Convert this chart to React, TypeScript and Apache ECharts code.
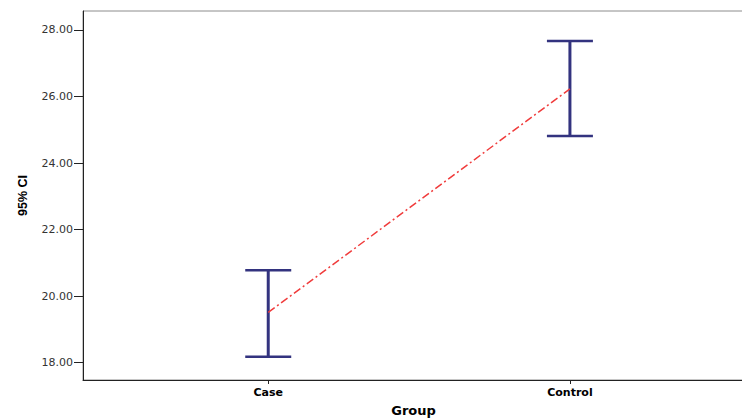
import React, { useEffect, useRef } from "react";
import * as echarts from "echarts";

const groups = ["Case", "Control"];
const groupPos = [1, 2];
const lowerCI = [18.18, 24.81];
const upperCI = [20.78, 27.67];
const means = [19.51, 26.23];
const yTicks = [18, 20, 22, 24, 26, 28];

export default function App() {
  const ref = useRef<HTMLDivElement>(null);
  useEffect(() => {
    if (!ref.current) return;
    document.body.style.margin = "0";
    const chart = echarts.init(ref.current, null, { renderer: "svg" });
    const barData = groupPos.map((x, i) => [x, lowerCI[i], upperCI[i]]);
    const meanData = groupPos.map((x, i) => [x, means[i]]);
    chart.setOption({
      animation: false,
      backgroundColor: "#ffffff",
      grid: {
        left: 83,
        top: 11,
        right: -2,
        bottom: 39,
        outerBoundsMode: "none",
        containLabel: false,
        show: true,
        borderColor: "#8c8c8c",
        borderWidth: 1,
      },
      xAxis: {
        type: "value",
        min: 0.386,
        max: 2.577,
        name: "Group",
        nameLocation: "middle",
        nameGap: 24,
        nameMoveOverlap: false,
        nameTextStyle: {
          fontFamily: "DejaVu Sans",
          fontWeight: "bold",
          fontSize: 13,
          color: "#000",
        },
        splitLine: { show: false },
        axisLine: { show: true, lineStyle: { color: "#222", width: 1 } },
        axisTick: {
          show: true,
          length: 4,
          customValues: groupPos,
          lineStyle: { color: "#222" },
        },
        axisLabel: {
          customValues: groupPos,
          formatter: (v: number) => groups[groupPos.indexOf(Math.round(v))] ?? "",
          fontFamily: "DejaVu Sans",
          fontWeight: "bold",
          fontSize: 11,
          color: "#000",
          margin: 7,
        },
      },
      yAxis: {
        type: "value",
        min: 17.48,
        max: 28.57,
        name: "95% CI",
        nameLocation: "middle",
        nameGap: 54,
        nameRotate: 90,
        nameMoveOverlap: false,
        nameTextStyle: {
          fontFamily: "Liberation Sans",
          fontWeight: "bold",
          fontSize: 12.5,
          color: "#000",
        },
        splitLine: { show: false },
        axisLine: { show: true, lineStyle: { color: "#222", width: 1 } },
        axisTick: {
          show: true,
          length: 9,
          customValues: yTicks,
          lineStyle: { color: "#222" },
        },
        axisLabel: {
          customValues: yTicks,
          formatter: (v: number) => v.toFixed(2),
          fontFamily: "DejaVu Sans",
          fontSize: 11,
          color: "#333",
          margin: 10,
        },
      },
      series: [
        {
          type: "line",
          data: meanData,
          symbol: "none",
          lineStyle: { color: "#f03c3c", width: 1.5, type: [8, 3, 2, 3] },
          z: 3,
        },
        {
          type: "custom",
          data: barData,
          z: 2,
          renderItem: (params: any, api: any) => {
            const x = api.value(0);
            const lo = api.coord([x, api.value(1)]);
            const hi = api.coord([x, api.value(2)]);
            const half = 23;
            const style = { stroke: "#33337f", lineWidth: 2.5 };
            return {
              type: "group",
              children: [
                { type: "line", shape: { x1: lo[0], y1: lo[1], x2: hi[0], y2: hi[1] }, style: { stroke: "#33337f", lineWidth: 3 } },
                { type: "line", shape: { x1: lo[0] - half, y1: lo[1], x2: lo[0] + half, y2: lo[1] }, style },
                { type: "line", shape: { x1: hi[0] - half, y1: hi[1], x2: hi[0] + half, y2: hi[1] }, style },
              ],
            };
          },
        },
      ],
    });
    return () => chart.dispose();
  }, []);
  return <div ref={ref} style={{ width: 742, height: 419 }} />;
}
